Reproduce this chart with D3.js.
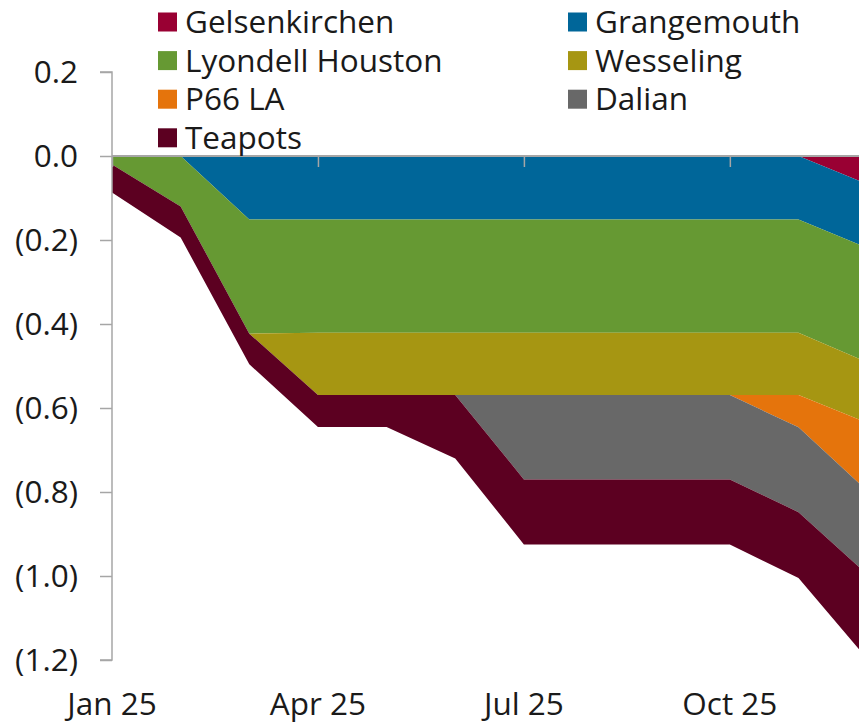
<!DOCTYPE html>
<html>
<head>
<meta charset="utf-8">
<script src="https://cdn.jsdelivr.net/npm/d3@7/dist/d3.min.js"></script>
<style>
  html, body { margin: 0; padding: 0; background: #fff; }
  svg { display: block; }
  text { font-family: "Open Sans", "Noto Sans", sans-serif; fill: #1a1a1a; }
</style>
</head>
<body>
<svg id="chart" width="859" height="725"></svg>
<script>
// ---- data ----
const months = ["Jan 25","Feb 25","Mar 25","Apr 25","May 25","Jun 25","Jul 25","Aug 25","Sep 25","Oct 25","Nov 25","Dec 25"];
const seriesNames = ["Gelsenkirchen","Grangemouth","Lyondell Houston","Wesseling","P66 LA","Dalian","Teapots"];
const gelsenkirchen   = [0, 0, 0, 0, 0, 0, 0, 0, 0, 0, 0, -0.067];
const grangemouth     = [0, 0, -0.151, -0.151, -0.151, -0.151, -0.151, -0.151, -0.151, -0.151, -0.151, -0.152];
const lyondellHouston = [-0.02, -0.12, -0.272, -0.27, -0.27, -0.27, -0.27, -0.27, -0.27, -0.27, -0.27, -0.272];
const wesseling       = [0, 0, 0, -0.148, -0.148, -0.148, -0.148, -0.148, -0.148, -0.148, -0.148, -0.144];
const p66la           = [0, 0, 0, 0, 0, 0, 0, 0, 0, 0, -0.077, -0.162];
const dalian          = [0, 0, 0, 0, 0, 0, -0.201, -0.201, -0.201, -0.201, -0.202, -0.199];
const teapots         = [-0.067, -0.074, -0.073, -0.076, -0.076, -0.151, -0.155, -0.155, -0.155, -0.155, -0.157, -0.201];
const yTicks = [0.2, 0, -0.2, -0.4, -0.6, -0.8, -1.0, -1.2];
const xTickLabels = ["Jan 25","Apr 25","Jul 25","Oct 25"];
const colors = ["#990033","#006699","#669933","#a69612","#e5740c","#686868","#5c0021"];

// ---- build table ----
const seriesValues = [gelsenkirchen, grangemouth, lyondellHouston, wesseling, p66la, dalian, teapots];
const table = months.map((m, i) => {
  const row = { month: m };
  seriesNames.forEach((s, j) => row[s] = seriesValues[j][i]);
  return row;
});

const FS = 31.5;
const svg = d3.select("#chart");
const x = d3.scalePoint().domain(months).range([112, 112 + 11 * 68.65]);
const y = d3.scaleLinear().domain([-1.2, 0.2]).range([660, 72]);

// all values are <= 0, so a plain cumulative stack runs downward from zero
const stack = d3.stack().keys(seriesNames).offset(d3.stackOffsetNone);
const stacked = stack(table);

const area = d3.area()
  .x(d => x(d.data.month))
  .y0(d => y(d[0]))
  .y1(d => y(d[1]));

svg.append("g").selectAll("path")
  .data(stacked)
  .join("path")
  .attr("d", area)
  .attr("fill", (d, i) => colors[i]);

// ---- axes ----
const axisColor = "#a6a6a6";
const yAxis = svg.append("g").attr("transform", "translate(112,0)")
  .call(d3.axisLeft(y).tickValues(yTicks).tickSize(12).tickPadding(22)
    .tickFormat(v => {
      const a = Math.abs(v).toFixed(1);
      return v < 0 ? "(" + a + ")" : a;
    }));
yAxis.select(".domain").attr("stroke", axisColor).attr("stroke-width", 1.5)
  .attr("d", `M-12,${y(0.2)}H0V${y(-1.2)}H-12`);
yAxis.selectAll(".tick line").attr("stroke", axisColor).attr("stroke-width", 1.5);
yAxis.selectAll(".tick text").attr("font-size", FS).attr("fill", "#1a1a1a")
  .attr("font-family", "'Open Sans', sans-serif");

const xAxis = svg.append("g").attr("transform", `translate(0,${y(0)})`)
  .call(d3.axisBottom(x).tickValues(xTickLabels).tickSize(11).tickFormat(""));
xAxis.select(".domain").attr("stroke", axisColor).attr("stroke-width", 1.8)
  .attr("d", `M112,0H859`);
xAxis.selectAll(".tick line").attr("stroke", axisColor).attr("stroke-width", 1.5);

svg.append("g").selectAll("text")
  .data(xTickLabels)
  .join("text")
  .attr("x", d => x(d))
  .attr("y", 715)
  .attr("text-anchor", "middle")
  .attr("font-size", FS)
  .text(d => d);

// ---- legend ----
const legend = svg.append("g");
seriesNames.forEach((s, i) => {
  const col = i % 2, row = Math.floor(i / 2);
  const lx = col === 0 ? 158 : 568;
  const ly = 22 + row * 38.6;
  legend.append("rect")
    .attr("x", lx).attr("y", ly - 9.5)
    .attr("width", 19).attr("height", 19)
    .attr("fill", colors[i]);
  legend.append("text")
    .attr("x", lx + 27).attr("y", ly)
    .attr("dy", "0.35em")
    .attr("font-size", FS)
    .text(s);
});
</script>
</body>
</html>
